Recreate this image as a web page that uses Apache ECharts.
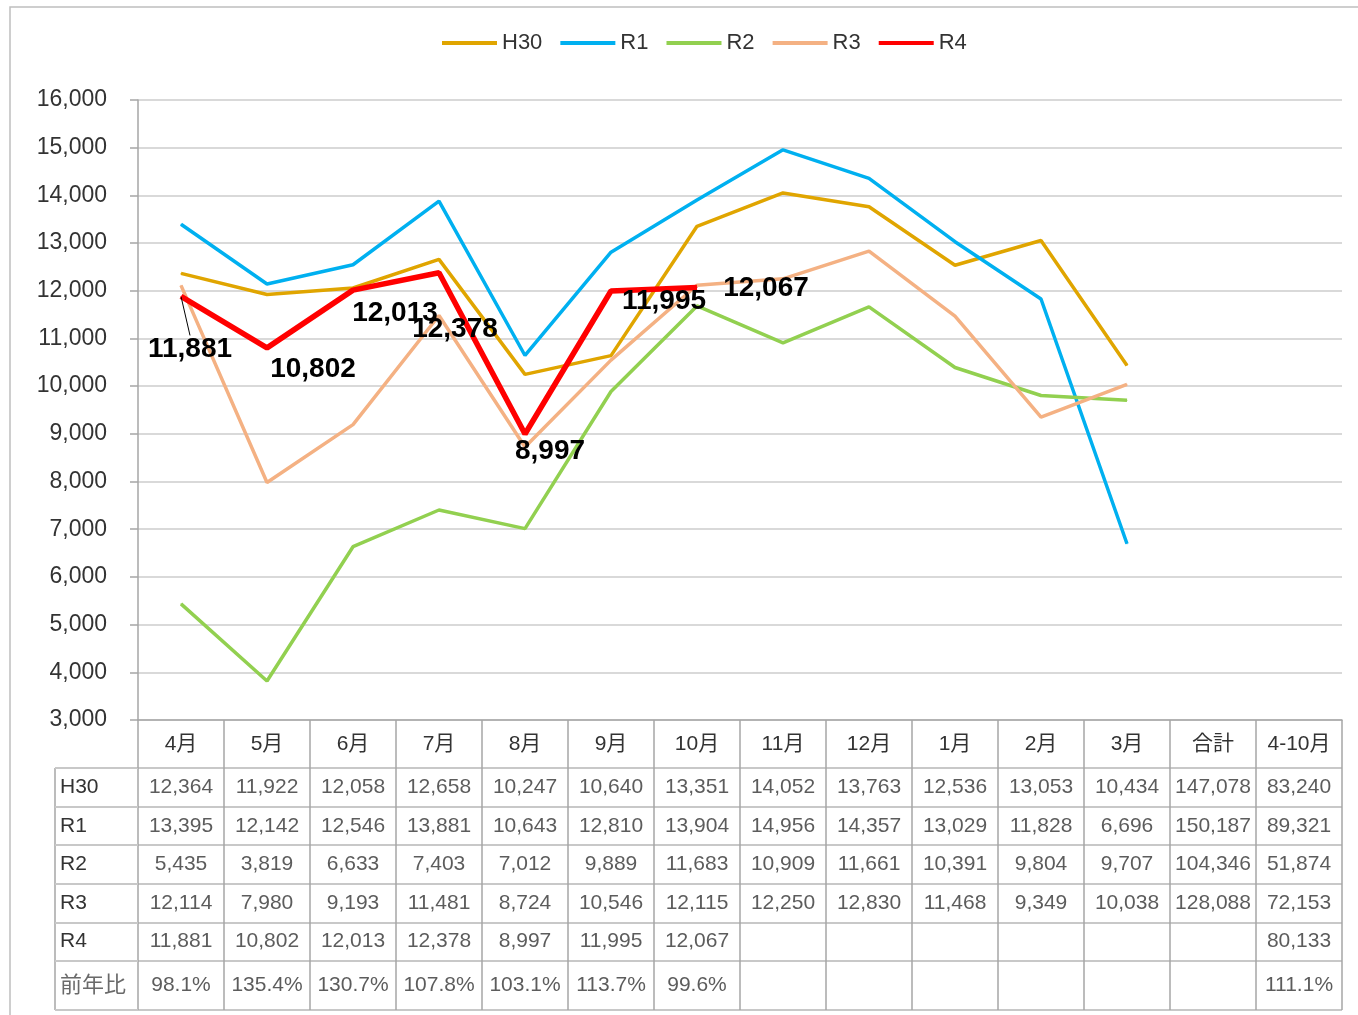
<!DOCTYPE html>
<html>
<head>
<meta charset="utf-8">
<script src="https://cdn.jsdelivr.net/npm/echarts@6/dist/echarts.min.js"></script>
<style>
html,body{margin:0;padding:0;background:#fff;}
#chart{width:1358px;height:1015px;}
</style>
</head>
<body>
<div id="chart"></div>
<script>
// ---- data ----
const months = ['4月','5月','6月','7月','8月','9月','10月','11月','12月','1月','2月','3月'];
const extraCols = ['合計','4-10月'];
const seriesNames = ['H30','R1','R2','R3','R4'];
const H30 = [12364,11922,12058,12658,10247,10640,13351,14052,13763,12536,13053,10434];
const R1  = [13395,12142,12546,13881,10643,12810,13904,14956,14357,13029,11828,6696];
const R2  = [5435,3819,6633,7403,7012,9889,11683,10909,11661,10391,9804,9707];
const R3  = [12114,7980,9193,11481,8724,10546,12115,12250,12830,11468,9349,10038];
const R4  = [11881,10802,12013,12378,8997,11995,12067];
const totalYear = [147078,150187,104346,128088,null];
const total4to10 = [83240,89321,51874,72153,80133];
const ratioLabel = '前年比';
const ratioMonthly = ['98.1%','135.4%','130.7%','107.8%','103.1%','113.7%','99.6%'];
const ratioTotal4to10 = '111.1%';
const yTicks = {min:3000, max:16000, step:1000};

// ---- styles ----
const colors = ['#E0A500','#00B0F0','#92D050','#F4B183','#FF0000'];
const FONT = "'Liberation Sans','Noto Sans CJK JP',sans-serif";
const TXT = '#333333';
const GRIDC = '#a6a6a6';
const ROWC = '#c8c8c8';
const labelShift = [[9,53],[46,21],[42,23],[16,57],[25,17],[53,10],[69,1]];

const categories = months.concat(extraCols);
const allSeries = [H30,R1,R2,R3,R4];
const fmt = v => (v === null || v === undefined) ? '' : v.toLocaleString('en-US');

// table cell data
const cells = [];
allSeries.forEach((arr, r) => {
  arr.forEach((v, j) => cells.push({value:[j, r], name: fmt(v)}));
  if (totalYear[r] !== null) cells.push({value:[months.length, r], name: fmt(totalYear[r])});
  cells.push({value:[months.length+1, r], name: fmt(total4to10[r])});
});
const ratioCells = ratioMonthly.map((t, j) => ({value:[j, 0], name:t}));
ratioCells.push({value:[months.length+1, 0], name: ratioTotal4to10});

const chart = echarts.init(document.getElementById('chart'));

const lineSeries = seriesNames.map((n, i) => {
  const s = {
    name: n, type: 'line', xAxisIndex: 0, yAxisIndex: 0,
    data: allSeries[i],
    symbol: 'circle', symbolSize: 1, showSymbol: true,
    lineStyle: {color: colors[i], width: i === 4 ? 5.5 : 3.5},
    itemStyle: {color: colors[i]},
    emphasis: {disabled: true},
    z: 2 + i
  };
  if (i === 4) {
    s.data = R4.map((v, k) => k === 0 ? {value: v, labelLine: {show: true, lineStyle:{color:'#000', width:1}}} : v);
    s.label = {
      show: true, position: 'inside',
      formatter: p => fmt(p.value),
      fontFamily: FONT, fontSize: 28, fontWeight: 'bold', color: '#000'
    };
    s.labelLine = {show: false};
    s.labelLayout = p => ({dx: labelShift[p.dataIndex][0], dy: labelShift[p.dataIndex][1]});
  }
  return s;
});

const option = {
  animation: false,
  backgroundColor: '#fff',
  textStyle: {fontFamily: FONT},
  legend: {
    top: 27, left: 437,
    data: seriesNames,
    icon: 'rect', itemWidth: 55, itemHeight: 4, itemGap: 18,
    textStyle: {fontFamily: FONT, fontSize: 22, color: TXT}
  },
  grid: [
    {left: 138, right: 16, top: 100, bottom: 295},
    {left: 138, right: 16, top: 768, height: 193},
    {left: 138, right: 16, top: 961, height: 49}
  ],
  xAxis: [
    {
      gridIndex: 0, type: 'category', data: categories, boundaryGap: true,
      axisLine: {show: true, lineStyle: {color: GRIDC, width: 1.5}},
      axisTick: {show: true, length: 48, interval: 0, lineStyle: {color: GRIDC, width: 1.5}},
      axisLabel: {interval: 0, margin: 14, fontFamily: FONT, fontSize: 21, color: TXT},
      splitLine: {show: false}
    },
    {
      gridIndex: 1, type: 'category', data: categories, boundaryGap: true,
      axisLine: {show: false}, axisTick: {show: false}, axisLabel: {show: false},
      splitLine: {show: true, interval: 0, lineStyle: {color: GRIDC, width: 1.5}}
    },
    {
      gridIndex: 2, type: 'category', data: categories, boundaryGap: true,
      axisLine: {show: false}, axisTick: {show: false}, axisLabel: {show: false},
      splitLine: {show: true, interval: 0, lineStyle: {color: GRIDC, width: 1.5}}
    }
  ],
  yAxis: [
    {
      gridIndex: 0, type: 'value', min: yTicks.min, max: yTicks.max, interval: yTicks.step,
      axisLine: {show: true, lineStyle: {color: GRIDC, width: 1.5}},
      axisTick: {show: true, length: 8, lineStyle: {color: GRIDC, width: 1.5}},
      axisLabel: {margin: 31, fontFamily: FONT, fontSize: 23, color: TXT, formatter: v => fmt(v)},
      splitLine: {show: true, lineStyle: {color: '#d9d9d9', width: 2}}
    },
    {
      gridIndex: 1, type: 'category', data: seriesNames, inverse: true, boundaryGap: true,
      axisLine: {show: false},
      axisTick: {show: true, length: 83, interval: 0, lineStyle: {color: ROWC, width: 2}},
      axisLabel: {interval: 0, align: 'left', margin: 78, fontFamily: FONT, fontSize: 21, color: TXT},
      splitLine: {show: true, interval: 0, lineStyle: {color: ROWC, width: 2}}
    },
    {
      gridIndex: 2, type: 'category', data: [ratioLabel], inverse: true, boundaryGap: true,
      axisLine: {show: false},
      axisTick: {show: true, length: 83, interval: 0, lineStyle: {color: ROWC, width: 2}},
      axisLabel: {interval: 0, align: 'left', margin: 78, fontFamily: FONT, fontSize: 22, color: '#6a6a6a'},
      splitLine: {show: true, interval: 0, lineStyle: {color: ROWC, width: 2}}
    }
  ],
  series: lineSeries.concat([
    {
      type: 'scatter', xAxisIndex: 1, yAxisIndex: 1, data: cells,
      symbolSize: 0, silent: true,
      label: {show: true, position: 'inside', formatter: '{b}', fontFamily: FONT, fontSize: 21, color: TXT}
    },
    {
      type: 'scatter', xAxisIndex: 2, yAxisIndex: 2, data: ratioCells,
      symbolSize: 0, silent: true,
      label: {show: true, position: 'inside', formatter: '{b}', fontFamily: FONT, fontSize: 21, color: TXT}
    }
  ]),
  graphic: [
    {type: 'rect', shape: {x: 10, y: 7, width: 1400, height: 1100}, style: {fill: 'none', stroke: '#bfbfbf', lineWidth: 1.5}, z: -1},
    {type: 'line', shape: {x1: 55, y1: 768, x2: 55, y2: 1010}, style: {stroke: GRIDC, lineWidth: 1.5}}
  ]
};
chart.setOption(option);
</script>
</body>
</html>
